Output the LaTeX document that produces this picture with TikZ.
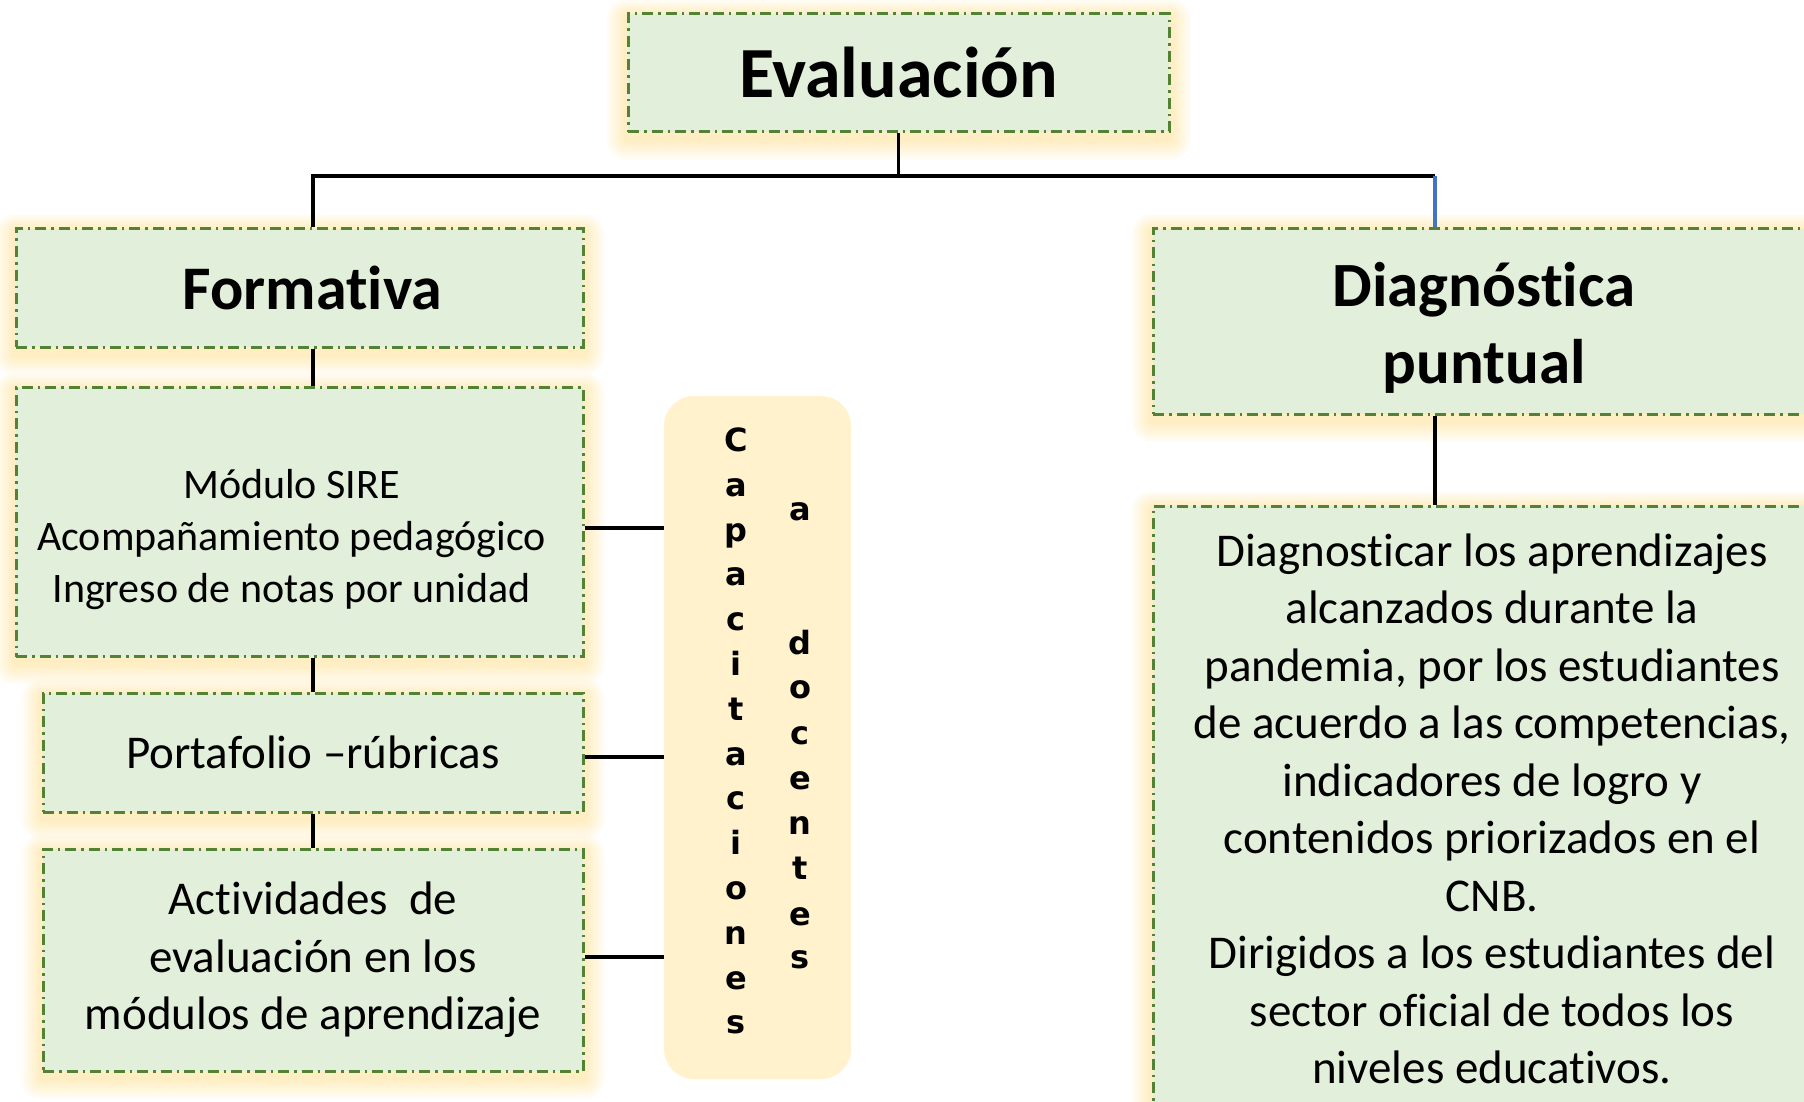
\documentclass[tikz,border=0pt]{standalone}
\usepackage{fontspec}
\setmainfont{Carlito}[Ligatures=NoCommon]
\newfontfamily\vertfont{DejaVu Sans}
\usetikzlibrary{backgrounds}
\definecolor{boxgreen}{HTML}{E2EFDA}
\definecolor{dashgreen}{HTML}{548235}
\definecolor{capfill}{HTML}{FFF2CC}
\definecolor{glow}{HTML}{FFD966}
\definecolor{linkblue}{HTML}{4472C4}

\begin{document}
\begin{tikzpicture}[x=1pt, y=-1pt,
    gbox/.style={draw=dashgreen, fill=boxgreen, line width=3pt,
        dash pattern=on 11pt off 5pt on 2.5pt off 5pt, align=center, inner sep=0pt},
    conn/.style={line width=3.5pt, black},
    capletter/.style={font=\vertfont\bfseries\fontsize{32}{32}\selectfont,
        text height=17pt, text depth=0pt, inner sep=0pt}]
    \useasboundingbox (0,0) rectangle (1804,1102);
    \clip (0,0) rectangle (1804,1102);
    \node[gbox, minimum width=541, minimum height=118, font=\bfseries\fontsize{72}{86}\selectfont] (eval) at (898.5,73) {Evaluación};
    \node[gbox, minimum width=567, minimum height=118] (form) at (299.5,288) {};
    \node[font=\bfseries\fontsize{62}{74}\selectfont] (formlbl) at ([shift={(13,0)}]form.center) {Formativa};
    \node[gbox, minimum width=567, minimum height=269] (sire) at (299.5,522) {};
    \node[align=center, font=\fontsize{42}{52}\selectfont] (sirelbl) at ([shift={(-8,18)}]sire.center) {Módulo SIRE\\Acompañamiento pedagógico\\Ingreso de notas por unidad};
    \node[gbox, minimum width=540, minimum height=119, font=\fontsize{47}{57.5}\selectfont] (port) at (313,752.5) {Portafolio –rúbricas};
    \node[gbox, minimum width=540, minimum height=222, font=\fontsize{47}{57.5}\selectfont] (acti) at (313,960) {Actividades~ de\\evaluación en los\\módulos de aprendizaje};
    \node[gbox, minimum width=662, minimum height=185] (diag) at (1484,321.5) {};
    \node[align=center, font=\bfseries\fontsize{63}{77}\selectfont] (diaglbl) at ([shift={(0,6)}]diag.center) {Diagnóstica\\puntual};
    \node[gbox, minimum width=678, minimum height=606, font=\fontsize{47}{57.5}\selectfont] (diagtxt) at (1492,809) {Diagnosticar los aprendizajes\\alcanzados durante la\\pandemia, por los estudiantes\\de acuerdo a las competencias,\\indicadores de logro y\\contenidos priorizados en el\\CNB.\\Dirigidos a los estudiantes del\\sector oficial de todos los\\niveles educativos.};
    \node[fill=capfill, rounded corners=30pt, minimum width=187, minimum height=683, inner sep=0pt] (cap) at (757.5,737.5) {};
    \foreach \ch [count=\i from 0] in {C,a,p,a,c,i,t,a,c,i,o,n,e,s}
        \node[capletter] (c\i) at (736,443+44.8*\i) {\ch};
    \foreach \ch/\yy [count=\i] in {a/512,d/646,o/690,c/736,e/781,n/826,t/871,e/917,s/960}
        \node[capletter] (d\i) at (800,\yy) {\ch};
    \begin{scope}[on background layer]
        \fill[white] (0,0) rectangle (1804,1102);
        \foreach \n in {eval,form,sire,port,acti,diag,diagtxt}
            \foreach \k in {1,...,8}
                \fill[glow, opacity=0.055, rounded corners=2.5*\k]
                    ([shift={(-2.5*\k,-2*\k+3)}]\n.north west) rectangle ([shift={(2.5*\k,2.5*\k+6)}]\n.south east);
    \end{scope}
    \coordinate (fork) at (898.5,176);
    \coordinate (dtop) at (1435,176);
    \draw[conn] (eval.south) -- (fork);
    \draw[conn] (fork) -| (form.north -| port.north);
    \draw[conn] (fork) -- (dtop);
    \draw[line width=3.5pt, linkblue] (dtop) -- (diag.north -| dtop);
    \draw[conn] (diag.south -| dtop) -- (diagtxt.north -| dtop);
    \draw[conn] (form.south -| port.north) -- (sire.north -| port.north);
    \draw[conn] (sire.south -| port.north) -- (port.north);
    \draw[conn] (port.south) -- (acti.north);
    \draw[conn] ([yshift=-6pt]sire.east) -- ([yshift=-6pt]sire.east -| cap.west);
    \draw[conn] ([yshift=-4.5pt]port.east) -- ([yshift=-4.5pt]port.east -| cap.west);
    \draw[conn] ([yshift=3pt]acti.east) -- ([yshift=3pt]acti.east -| cap.west);
\end{tikzpicture}
\end{document}
